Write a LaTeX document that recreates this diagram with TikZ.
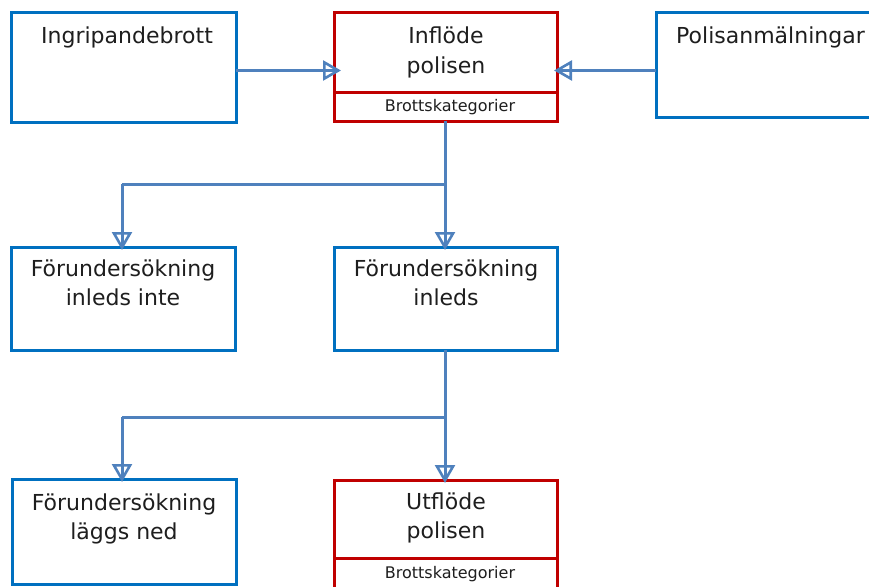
\documentclass[tikz,border=0pt]{standalone}
\usepackage{fontspec}
\setmainfont{DejaVu Sans}
\usetikzlibrary{arrows.meta}
\definecolor{boxblue}{RGB}{0,112,192}
\definecolor{arrblue}{RGB}{79,129,189}
\definecolor{boxred}{RGB}{192,0,0}
\definecolor{txt}{RGB}{30,30,30}
\tikzset{
  bluebox/.style={draw=boxblue, line width=3pt, fill=white},
  redbox/.style={draw=boxred, line width=3pt, fill=white},
  bigtext/.style={inner sep=0pt, text=txt, align=center, anchor=base, font=\fontsize{22}{29}\selectfont},
  smalltext/.style={inner sep=0pt, text=txt, anchor=base, font=\fontsize{16}{18}\selectfont},
  flow/.style={draw=arrblue, line width=3pt, -{Triangle[open, length=18pt, width=20pt, line width=2.6pt]},
    postaction={draw=arrblue, line width=3pt, -, shorten >=4pt}},
  flowline/.style={draw=arrblue, line width=3pt}
}
\begin{document}
\begin{tikzpicture}[x=1pt,y=-1pt]
\useasboundingbox (0,0) rectangle (869,586);
\clip (0,0) rectangle (869,586);
% boxes
\path[bluebox] (11,13) rectangle (236,122);
\coordinate (ingrE) at (236,70.5);
\path[redbox] (334,13) rectangle (557,121);
\draw[boxred, line width=3pt] (334,92) -- (557,92);
\coordinate (inflW) at (341,70.5);
\coordinate (inflE) at (554,70.5);
\coordinate (inflS) at (445,121);
\path[bluebox] (656,13) rectangle (890,117);
\coordinate (polisW) at (656,70.5);
\path[bluebox] (11,247) rectangle (235,350);
\coordinate (fuiN) at (122,250);
\path[bluebox] (334,247) rectangle (557,350);
\coordinate (fiN) at (445,250);
\coordinate (fiS) at (445,350);
\path[bluebox] (12,479) rectangle (236,584);
\coordinate (flnN) at (122,482);
\path[redbox] (334,480) rectangle (557,610);
\draw[boxred, line width=3pt] (334,558) -- (557,558);
\coordinate (utfN) at (445,483);
% texts
\node[bigtext] (t1) at (127,44) {Ingripandebrott};
\node[bigtext] (t2) at (446,73) {Inflöde\\polisen};
\node[smalltext] (t2b) at (450,111) {Brottskategorier};
\node[bigtext, anchor=base west] (t3) at (676,44) {Polisanmälningar};
\node[bigtext] (t4) at (123,305) {Förundersökning\\inleds inte};
\node[bigtext] (t5) at (446,305) {Förundersökning\\inleds};
\node[bigtext] (t6) at (124,539) {Förundersökning\\läggs ned};
\node[bigtext] (t7) at (446,538) {Utflöde\\polisen};
\node[smalltext] (t7b) at (450,578) {Brottskategorier};
% connectors
\draw[flow] (ingrE) -- (inflW);
\draw[flow] (polisW) -- (inflE);
\coordinate (b1) at (445,184);
\coordinate (b1l) at (122,184);
\draw[flow] (inflS) -- (fiN);
\draw[flowline] (b1) -- (b1l);
\draw[flow] (b1l) -- (fuiN);
\coordinate (b2) at (445,417);
\coordinate (b2l) at (122,417);
\draw[flow] (fiS) -- (utfN);
\draw[flowline] (b2) -- (b2l);
\draw[flow] (b2l) -- (flnN);
\end{tikzpicture}
\end{document}
